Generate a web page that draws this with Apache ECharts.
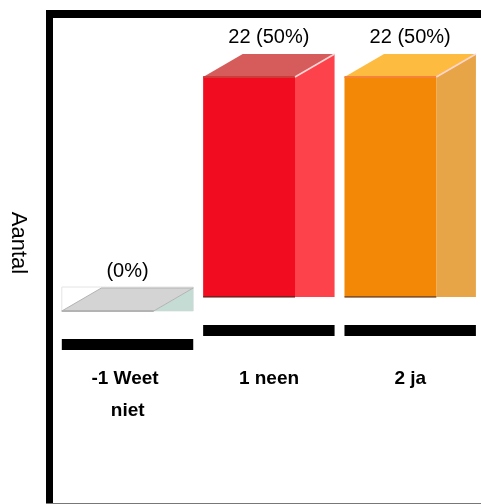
<!DOCTYPE html>
<html>
<head>
<meta charset="utf-8">
<script src="https://cdn.jsdelivr.net/npm/echarts@6/dist/echarts.min.js"></script>
<style>html,body{margin:0;padding:0;background:#fff}#c{width:481px;height:504px}</style>
</head>
<body>
<div id="c"></div>
<script>
const categories = ['-1 Weet niet', '1 neen', '2 ja'];
const values = [0, 22, 22];
const yAxisName = 'Aantal';

const palette = [
  { front: '#d4d4d4', side: '#c4dcd3', top: '#d4d4d4', edge: '#b3b3b3' },
  { front: '#f20c1f', side: '#fe424b', top: '#d65c5c', edge: '#cf3a3a' },
  { front: '#f38806', side: '#e8a547', top: '#fdbb40', edge: '#f7823a' }
];
const total = values.reduce((a, b) => a + b, 0);
const FONT = 'Liberation Sans, Arial, sans-serif';

function renderItem(params, api) {
  const idx = api.value(0), val = api.value(1);
  const c = api.coord([idx, val]);
  const b = api.coord([idx, 0]);
  const band = api.size([1, 0])[0];
  const shift = val === 0 ? 14 : 0;
  const base = b[1] + shift;
  const top = c[1] + shift;
  const left = c[0] - 0.466 * band;
  const fw = 0.65 * band;
  const dx = 0.28 * band;
  const dy = 23;
  const p = palette[idx];
  const pct = total ? Math.round(val / total * 100) : 0;
  const label = val === 0 ? '(' + pct + '%)' : val + ' (' + pct + '%)';
  const children = [];
  if (val === 0) {
    children.push({ type: 'rect', shape: { x: left, y: base - dy - 1, width: fw + dx, height: dy + 1 }, style: { fill: '#fff', stroke: '#e4e4e4', lineWidth: 1 } });
    children.push({ type: 'polygon', shape: { points: [[left + fw, base], [left + fw + dx, base - dy], [left + fw + dx, base]] }, style: { fill: p.side } });
    children.push({ type: 'polygon', shape: { points: [[left, base], [left + dx, base - dy], [left + fw + dx, base - dy], [left + fw, base]] }, style: { fill: p.top, stroke: p.edge, lineWidth: 1 } });
    children.push({ type: 'line', shape: { x1: left, y1: base, x2: left + fw, y2: base }, style: { stroke: p.edge, lineWidth: 2 } });
  } else {
    children.push({ type: 'polygon', shape: { points: [[left + fw, top], [left + fw + dx, top - dy], [left + fw + dx, base], [left + fw, base]] }, style: { fill: p.side } });
    children.push({ type: 'rect', shape: { x: left, y: top, width: fw, height: base - top }, style: { fill: p.front } });
    children.push({ type: 'polygon', shape: { points: [[left, top], [left + dx, top - dy], [left + fw + dx, top - dy], [left + fw, top]] }, style: { fill: p.top } });
    children.push({ type: 'polyline', shape: { points: [[left, top], [left + fw, top]] }, style: { stroke: p.edge, lineWidth: 2 } });
    children.push({ type: 'line', shape: { x1: left + fw, y1: top, x2: left + fw + dx, y2: top - dy }, style: { stroke: '#ffd6d6', lineWidth: 1.5 } });
    children.push({ type: 'line', shape: { x1: left, y1: base, x2: left + fw, y2: base }, style: { stroke: '#3a1a10', lineWidth: 1 } });
  }
  children.push({ type: 'rect', shape: { x: left, y: base + 28, width: fw + dx, height: 11 }, style: { fill: '#000' } });
  children.push({ type: 'text', style: { text: label, x: left + (fw + dx) / 2, y: top - dy - 17, align: 'center', verticalAlign: 'middle', font: '20px ' + FONT, fill: '#000' } });
  return { type: 'group', children: children };
}

const chart = echarts.init(document.getElementById('c'), null, { renderer: 'canvas' });
chart.setOption({
  backgroundColor: '#fff',
  animation: false,
  grid: { left: 57, right: 0, top: 77, bottom: 207 },
  xAxis: {
    type: 'category', data: categories,
    axisLine: { show: false }, axisTick: { show: false },
    axisLabel: { interval: 0, margin: 66, fontSize: 19, fontWeight: 'bold', fontFamily: FONT, color: '#000', lineHeight: 32, width: 85, overflow: 'break' }
  },
  yAxis: { type: 'value', min: 0, max: 22, show: false },
  series: [{
    type: 'custom', renderItem: renderItem, clip: false,
    data: values.map((v, i) => [i, v]), encode: { x: 0, y: 1 }
  }],
  graphic: [
    { type: 'rect', shape: { x: 46, y: 10, width: 435, height: 8 }, style: { fill: '#000' } },
    { type: 'rect', shape: { x: 46, y: 10, width: 7, height: 494 }, style: { fill: '#000' } },
    { type: 'rect', shape: { x: 46, y: 503, width: 435, height: 1 }, style: { fill: '#777' } },
    { type: 'text', x: 18, y: 243, rotation: -Math.PI / 2, style: { text: yAxisName, font: '22px ' + FONT, fill: '#000', align: 'center', verticalAlign: 'middle' } }
  ]
});
</script>
</body>
</html>
